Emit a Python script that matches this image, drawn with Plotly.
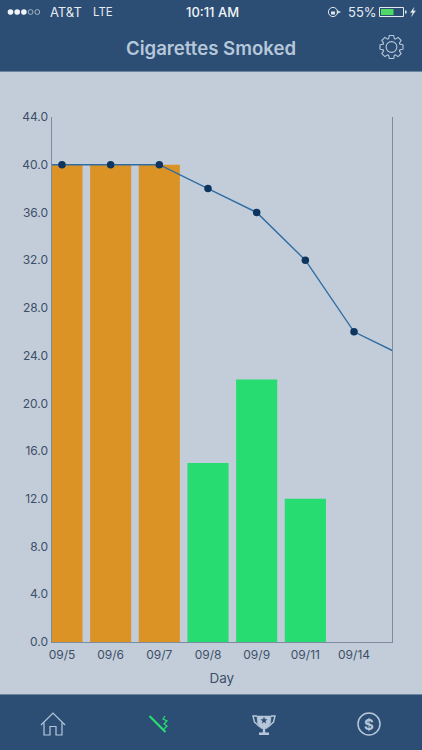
import math
import plotly.graph_objects as go

W, H = 422, 750
days = ["09/5", "09/6", "09/7", "09/8", "09/9", "09/11", "09/14"]
actual = [40, 40, 40, 15, 22, 12]
bar_colors = ["#DC9325", "#DC9325", "#DC9325", "#27DC71", "#27DC71", "#27DC71"]
plan = [40, 40, 40, 38, 36, 32, 26]
plan_lead_in = 40
plan_next = 24
y_ticks = [0, 4, 8, 12, 16, 20, 24, 28, 32, 36, 40, 44]

HEADER = "#2C4E74"
BG = "#C3CDD9"
AXIS = "#7C8B9F"
TEXT = "#3D4F68"
ICON = "#B7C7DA"
GREEN = "#27DC71"

def px(x): return x / W
def py(y): return 1 - y / H

def path(points, close=False):
    s = "M" + " L".join(f"{px(x):.5f},{py(y):.5f}" for x, y in points)
    return s + (" Z" if close else "")

shapes = []
def rect(x0, y0, x1, y1, fill, line=None, lw=0, layer="above"):
    shapes.append(dict(type="rect", xref="paper", yref="paper", x0=px(x0), x1=px(x1),
                       y0=py(y1), y1=py(y0), fillcolor=fill, layer=layer,
                       line=dict(color=line or fill, width=lw)))
def circle(cx, cy, r, fill="rgba(0,0,0,0)", line=None, lw=0):
    shapes.append(dict(type="circle", xref="paper", yref="paper", x0=px(cx - r), x1=px(cx + r),
                       y0=py(cy + r), y1=py(cy - r), fillcolor=fill, layer="above",
                       line=dict(color=line or fill, width=lw)))
def poly(points, fill="rgba(0,0,0,0)", line=ICON, lw=1.3, close=False):
    shapes.append(dict(type="path", xref="paper", yref="paper", path=path(points, close),
                       fillcolor=fill, layer="above", line=dict(color=line, width=lw)))

# app chrome
rect(0, 0, W, 71.5, HEADER, layer="below")
rect(0, 694.5, W, H, HEADER, layer="below")
rect(0, 71, W, 72, "#6E85A0", layer="below")
rect(0, 694, W, 695, "#6E85A0", layer="below")

# signal dots
for i in range(5):
    cx = 10.5 + i * 6.7
    if i < 3:
        circle(cx, 12, 2.8, fill="#F1F4F7")
    else:
        circle(cx, 12, 2.4, line="#D5DEE8", lw=0.7)

# rotation lock
circle(333, 12, 4.6, line="#DDE4EC", lw=1)
rect(331, 11.5, 335, 14.5, "#DDE4EC")
poly([(337, 10.5), (340.5, 12), (337, 13.5)], fill="#DDE4EC", line="#DDE4EC", lw=0.5, close=True)

# battery
rect(379.5, 7.5, 403.5, 16.5, "rgba(0,0,0,0)", line="#E4E9EF", lw=1)
rect(381, 9, 393.5, 15, "#4FD964")
rect(405, 10.5, 406.5, 13.5, "#E4E9EF")
poly([(414, 7.5), (410.5, 12.5), (412.8, 12.5), (411.5, 16.5), (415.5, 10.8), (413, 10.8)],
     fill="#E8EDF2", line="#E8EDF2", lw=0.3, close=True)

# gear
gcx, gcy, teeth = 391.5, 47, 8
gear = []
for i in range(teeth):
    a = 2 * math.pi * i / teeth - math.pi / 2
    st = 2 * math.pi / teeth
    for off, r in [(-0.30, 8.8), (-0.17, 11.7), (0.17, 11.7), (0.30, 8.8)]:
        gear.append((gcx + r * math.cos(a + off * st * 1.4), gcy + r * math.sin(a + off * st * 1.4)))
poly(gear, close=True, lw=1.1)
circle(gcx, gcy, 5.4, line=ICON, lw=1.1)

# home icon
poly([(41, 725), (53, 713), (65, 725)], lw=1.2)
poly([(44, 722.5), (44, 735), (50, 735), (50, 726.5), (56, 726.5), (56, 735), (62, 735), (62, 722.5)], lw=1.2)

# smoking icon
poly([(149.5, 716), (165.5, 732)], line=GREEN, lw=2.2)
poly([(165, 716), (163, 719), (167, 721), (164, 724), (167, 726), (164, 729)], line=GREEN, lw=1.3)

# trophy icon
poly([(257, 716), (271, 716), (270.5, 723), (267, 728.5), (261, 728.5), (257.5, 723)], fill=ICON, lw=0.5, close=True)
poly([(257, 716), (253, 716), (254.5, 722), (260, 727)], lw=1.4)
poly([(271, 716), (275, 716), (273.5, 722), (268, 727)], lw=1.4)
rect(262.8, 728, 265.2, 733, ICON)
rect(259, 732.5, 269, 735, ICON)
star = []
for i in range(10):
    a = -math.pi / 2 + i * math.pi / 5
    r = 3.4 if i % 2 == 0 else 1.4
    star.append((264 + r * math.cos(a), 720.5 + r * math.sin(a)))
poly(star, fill=HEADER, line=HEADER, lw=0.3, close=True)

# dollar icon
circle(369, 724, 11, line=ICON, lw=1.5)

def note(x, y, text, size, color, weight=400, anchor="center"):
    return dict(xref="paper", yref="paper", x=px(x), y=py(y), text=text, showarrow=False,
                xanchor=anchor, yanchor="middle", borderpad=0, borderwidth=0,
                font=dict(size=size, color=color, family="Inter", weight=weight))

tick_font = dict(family="Inter", size=12, color=TEXT)

annotations = [
    note(50, 12, "AT&amp;T", 13, "#E6EBF1", anchor="left"),
    note(93, 12, "LTE", 11.5, "#E6EBF1", anchor="left"),
    note(212, 12, "10:11 AM", 13, "#F1F4F7", weight=500),
    note(348, 12, "55%", 13, "#E6EBF1", anchor="left"),
    note(211, 47.5, "Cigarettes Smoked", 18.6, ICON, weight=600),
    note(369, 724, "$", 15, ICON, weight=700),
]

fig = go.Figure()
fig.add_bar(x=list(range(len(actual))), y=actual, width=0.845,
            marker=dict(color=bar_colors, line=dict(width=0)), hoverinfo="skip")
fig.add_scatter(x=[-1] + list(range(len(plan))) + [len(plan)],
                y=[plan_lead_in] + plan + [plan_next],
                mode="lines", line=dict(color="#2F6DA3", width=1.4), hoverinfo="skip")
fig.add_scatter(x=list(range(len(plan))), y=plan, mode="markers",
                marker=dict(color="#0E3560", size=7.5), hoverinfo="skip")

fig.update_layout(
    width=W, height=H, margin=dict(l=0, r=0, t=0, b=0, autoexpand=False),
    paper_bgcolor=BG, plot_bgcolor=BG, showlegend=False,
    shapes=shapes, annotations=annotations,
    xaxis=dict(domain=[px(51.5), px(392)], range=[-0.215, 6.78], tickmode="array", automargin=False,
               tickvals=list(range(len(days))), ticktext=days, showgrid=False, zeroline=False,
               showline=True, linecolor=AXIS, linewidth=1, ticks="", ticklabelstandoff=2,
               tickfont=tick_font,
               title=dict(text="Day", font=dict(family="Inter", size=13.5, color=TEXT), standoff=12)),
    yaxis=dict(domain=[py(642), py(117)], range=[0, 44], tickmode="array", tickvals=y_ticks, automargin=False,
               tickformat=".1f", showgrid=False, zeroline=False, showline=True, mirror=True,
               linecolor=AXIS, linewidth=1, ticks="", tickfont=tick_font),
)
fig.write_html("out.html", config=dict(displayModeBar=False, responsive=False),
               post_script="document.body.style.margin='0';document.body.style.overflow='hidden';")
